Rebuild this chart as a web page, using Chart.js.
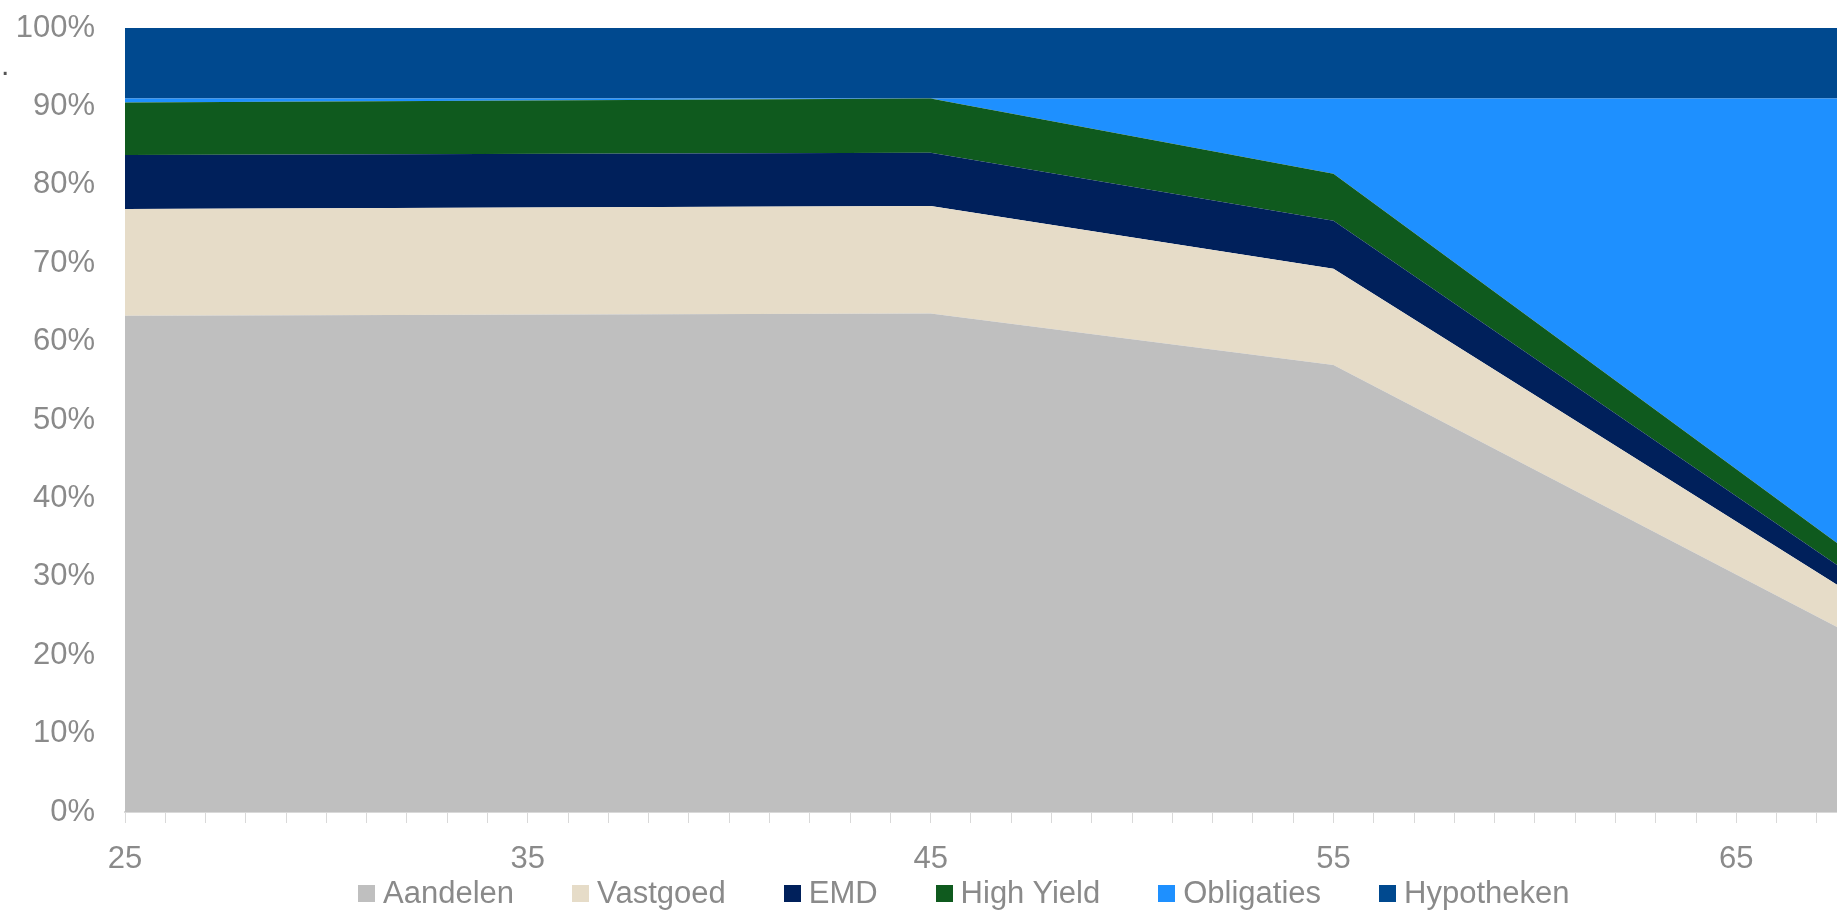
<!DOCTYPE html>
<html>
<head>
<meta charset="utf-8">
<script src="https://cdn.jsdelivr.net/npm/chart.js@4.4.1/dist/chart.umd.min.js"></script>
<style>
  html, body { margin: 0; padding: 0; background: #fff; }
  #wrap { position: relative; width: 1837px; height: 910px; font-family: "Liberation Sans", Arial, sans-serif; }
  #legend { position: absolute; left: 358px; top: 876px; display: flex; gap: 58px; color: #8a8a8a; font-size: 31px; line-height: 34px; }
  .item { display: flex; align-items: center; white-space: nowrap; }
  .swatch { width: 17px; height: 17px; margin-right: 8px; }
  #dot { position: absolute; left: 1px; top: 50px; font-size: 30px; line-height: 30px; color: #555; }
</style>
</head>
<body>
<div id="wrap">
  <canvas id="chart" width="1837" height="910"></canvas>
  <div id="dot">.</div>
  <div id="legend"></div>
</div>
<script>
// ages where the allocation changes (last one is the right edge of the picture)
const ages = [25, 45, 55, 67.5];

const aandelen   = [63.3, 63.6, 57.0, 23.6];
const vastgoed   = [13.6, 13.7, 12.3, 5.4];
const emd        = [6.9, 6.8, 6.1, 2.5];
const highYield  = [6.7, 6.9, 6.0, 2.8];
const obligaties = [0.5, 0.0, 9.6, 56.7];
const hypotheken = [9.0, 9.0, 9.0, 9.0];

const seriesNames  = ['Aandelen', 'Vastgoed', 'EMD', 'High Yield', 'Obligaties', 'Hypotheken'];
const seriesValues = [aandelen, vastgoed, emd, highYield, obligaties, hypotheken];
const seriesColors = ['#bfbfbf', '#e6dcc8', '#00205b', '#0f5a1e', '#1e90ff', '#00498f'];

const xLabelEvery = 10;
const yTicks = [0, 10, 20, 30, 40, 50, 60, 70, 80, 90, 100];

const labelColor = '#8a8a8a';
const font = { family: '"Liberation Sans", Arial, sans-serif', size: 31 };

const datasets = seriesNames.map((name, i) => ({
  label: name,
  data: ages.map((a, j) => ({ x: a, y: seriesValues[i][j] })),
  backgroundColor: seriesColors[i],
  borderWidth: 0,
  pointRadius: 0,
  fill: i === 0 ? 'origin' : '-1',
  tension: 0,
}));

new Chart(document.getElementById('chart').getContext('2d'), {
  type: 'line',
  data: { datasets: datasets },
  options: {
    responsive: false,
    animation: false,
    layout: { padding: { top: 28, right: 0, left: 0, bottom: 0 } },
    plugins: {
      legend: { display: false },
      tooltip: { enabled: false },
    },
    scales: {
      x: {
        type: 'linear',
        min: ages[0],
        max: ages[ages.length - 1],
        grid: { display: true, drawOnChartArea: false, drawTicks: true, tickLength: 11, color: '#d9d9d9' },
        border: { display: true, color: '#d9d9d9', width: 2 },
        ticks: {
          stepSize: 1,
          includeBounds: false,
          autoSkip: false,
          maxRotation: 0,
          color: labelColor,
          font: font,
          padding: 18,
          callback: (v) => ((v - ages[0]) % xLabelEvery === 0 ? String(v) : ''),
        },
        afterFit: (scale) => {
          scale.height = 98;
          scale.paddingLeft = 0;
          scale.paddingRight = 0;
        },
      },
      y: {
        stacked: true,
        min: yTicks[0],
        max: yTicks[yTicks.length - 1],
        grid: { display: false },
        border: { display: false },
        afterBuildTicks: (scale) => { scale.ticks = yTicks.map(v => ({ value: v })); },
        ticks: {
          color: labelColor,
          font: font,
          padding: 22,
          callback: (v) => v + '%',
        },
        afterFit: (scale) => {
          scale.width = 125;
          scale.paddingTop = 0;
          scale.paddingBottom = 0;
        },
      },
    },
  },
});

// legend
const legend = document.getElementById('legend');
seriesNames.forEach((name, i) => {
  const item = document.createElement('div');
  item.className = 'item';
  const sw = document.createElement('span');
  sw.className = 'swatch';
  sw.style.background = seriesColors[i];
  item.appendChild(sw);
  item.appendChild(document.createTextNode(name));
  legend.appendChild(item);
});
</script>
</body>
</html>
